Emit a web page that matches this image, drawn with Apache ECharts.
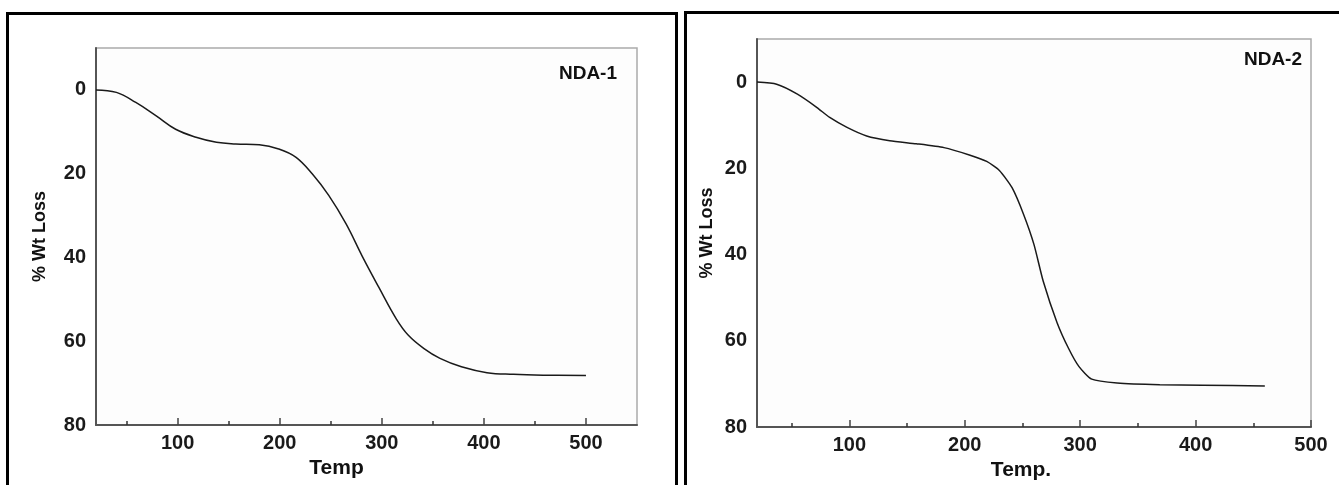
<!DOCTYPE html>
<html>
<head>
<meta charset="utf-8">
<script src="https://cdn.jsdelivr.net/npm/echarts@6/dist/echarts.min.js"></script>
<style>
  html, body { margin: 0; padding: 0; background: #fff; }
  #main { width: 1339px; height: 485px; }
</style>
</head>
<body>
<div id="main"></div>
<script>
// NDA-1 (left panel)
var nda1Temp = [20, 40, 59, 79, 98, 118, 138, 157, 180, 199, 216, 232, 248, 265, 281, 297, 314, 326, 341, 357, 378, 403, 429, 458, 500];
var nda1Loss = [0, 0.6, 3.0, 6.2, 9.4, 11.3, 12.5, 12.9, 13.1, 14.1, 16.1, 20.1, 25.2, 32.0, 39.8, 47.1, 54.6, 58.6, 61.7, 64.1, 66.1, 67.5, 67.9, 68.1, 68.2];
// NDA-2 (right panel)
var nda2Temp = [20, 37, 55, 72, 83, 98, 115, 135, 158, 182, 204, 219, 230, 241, 251, 260, 268, 280, 290, 299, 310, 332, 369, 406, 460];
var nda2Loss = [0, 0.5, 2.8, 5.9, 8.2, 10.5, 12.5, 13.6, 14.3, 15.2, 16.9, 18.4, 20.5, 24.5, 30.7, 37.7, 46.2, 55.8, 61.8, 66.0, 68.9, 69.8, 70.2, 70.3, 70.5];

var xMajor = [100, 200, 300, 400, 500];
var xMinor = [50, 150, 250, 350, 450];
var yLabels = [0, 20, 40, 60, 80];

function zip(a, b) {
    var out = [];
    for (var i = 0; i < a.length; i++) out.push([a[i], b[i]]);
    return out;
}

var FONT = 'Liberation Sans';
var labelStyle = { color: '#1a1a1a', fontSize: 20, fontWeight: 'bold', fontFamily: FONT };

function majorX(grid, max, name, padRight) {
    return {
        type: 'value', gridIndex: grid, position: 'bottom', min: 20, max: max,
        name: name, nameLocation: 'middle', nameGap: 28,
        nameTextStyle: { color: '#111', fontSize: 21, fontWeight: 'bold', fontFamily: FONT, padding: [0, padRight, 0, 0] },
        axisLine: { onZero: false, lineStyle: { color: '#555', width: 2 } },
        axisTick: { inside: true, length: 7, customValues: xMajor, lineStyle: { color: '#444', width: 1.5 } },
        axisLabel: Object.assign({ margin: 8, customValues: xMajor }, labelStyle),
        splitLine: { show: false }
    };
}
function minorX(grid, max) {
    return {
        type: 'value', gridIndex: grid, position: 'bottom', min: 20, max: max,
        axisLine: { show: false, onZero: false },
        axisTick: { inside: true, length: 4, customValues: xMinor, lineStyle: { color: '#333', width: 1.5 } },
        axisLabel: { show: false },
        splitLine: { show: false }
    };
}
function yAx(grid, gap) {
    return {
        type: 'value', gridIndex: grid, inverse: true, min: -10, max: 80,
        name: '% Wt Loss', nameLocation: 'middle', nameGap: gap,
        nameTextStyle: { color: '#111', fontSize: 18, fontWeight: 'bold', fontFamily: FONT },
        axisLine: { onZero: false, lineStyle: { color: '#555', width: 2 } },
        axisTick: { show: false },
        axisLabel: Object.assign({ margin: 10, customValues: yLabels }, labelStyle),
        splitLine: { show: false }
    };
}

var chart = echarts.init(document.getElementById('main'));
var option = {
    backgroundColor: '#fff',
    animation: false,
    title: [
        { text: 'NDA-1', right: 722, top: 64, padding: 0,
          textStyle: { color: '#111', fontSize: 19, fontWeight: 'bold', fontFamily: FONT } },
        { text: 'NDA-2', right: 37, top: 50, padding: 0,
          textStyle: { color: '#111', fontSize: 19, fontWeight: 'bold', fontFamily: FONT } }
    ],
    grid: [
        { left: 96, right: 702, top: 48, bottom: 60, show: true, borderColor: '#aaa', borderWidth: 1.5,
          backgroundColor: '#fdfdfd', outerBoundsMode: 'none' },
        { left: 757, right: 28, top: 39, bottom: 58, show: true, borderColor: '#aaa', borderWidth: 1.5,
          backgroundColor: '#fdfdfd', outerBoundsMode: 'none' }
    ],
    xAxis: [
        majorX(0, 550, 'Temp', 60),
        minorX(0, 550),
        majorX(1, 500, 'Temp.', 26),
        minorX(1, 500)
    ],
    yAxis: [yAx(0, 47), yAx(1, 41)],
    series: [
        { name: 'NDA-1', type: 'line', xAxisIndex: 0, yAxisIndex: 0, data: zip(nda1Temp, nda1Loss),
          smooth: 0.4, showSymbol: false, lineStyle: { color: '#1a1a1a', width: 1.5 } },
        { name: 'NDA-2', type: 'line', xAxisIndex: 2, yAxisIndex: 1, data: zip(nda2Temp, nda2Loss),
          smooth: 0.2, showSymbol: false, lineStyle: { color: '#1a1a1a', width: 1.5 } }
    ],
    graphic: [
        { type: 'rect', shape: { x: 7.5, y: 13.5, width: 669, height: 500 }, silent: true,
          style: { fill: 'none', stroke: '#000', lineWidth: 3 } },
        { type: 'rect', shape: { x: 685.5, y: 12.5, width: 700, height: 500 }, silent: true,
          style: { fill: 'none', stroke: '#000', lineWidth: 3 } }
    ]
};
chart.setOption(option);
</script>
</body>
</html>
